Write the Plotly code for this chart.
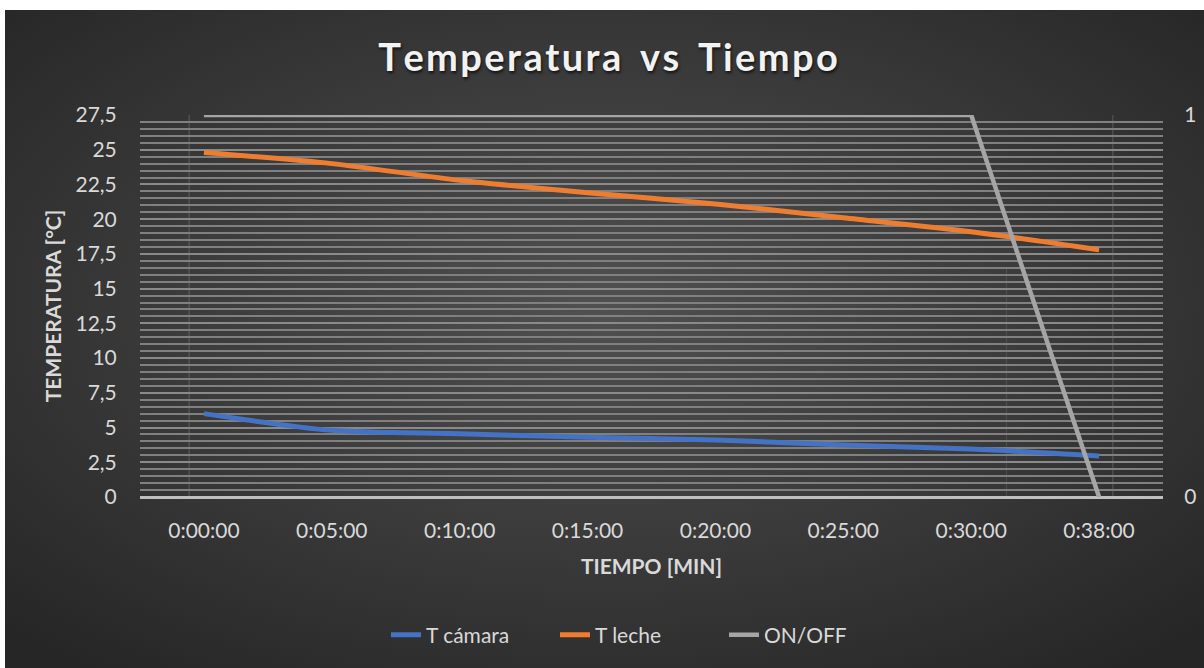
import base64
import plotly.graph_objects as go

# Data
tiempo = ["0:00:00", "0:05:00", "0:10:00", "0:15:00", "0:20:00", "0:25:00", "0:30:00", "0:38:00"]
t_camara = [6.0, 4.8, 4.55, 4.3, 4.1, 3.75, 3.45, 2.95]
t_leche = [24.8, 24.0, 22.8, 21.9, 21.1, 20.1, 19.1, 17.8]
on_off = [1, 1, 1, 1, 1, 1, 1, 0]

temp_ticks = [0, 2.5, 5, 7.5, 10, 12.5, 15, 17.5, 20, 22.5, 25, 27.5]
temp_labels = ["0", "2,5", "5", "7,5", "10", "12,5", "15", "17,5", "20", "22,5", "25", "27,5"]

title_words = ["Temperatura", "vs", "Tiempo"]

W, H = 1204, 668
ML, MR, MT, MB = 140, 41, 115, 171
PW, PH = W - ML - MR, H - MT - MB

# Dark radial-gradient panel behind the chart
svg = f"""<svg xmlns='http://www.w3.org/2000/svg' width='{W}' height='{H}' viewBox='0 0 {W} {H}' preserveAspectRatio='none'>
<defs><radialGradient id='g' cx='50%' cy='45%' r='70%'>
<stop offset='0%' stop-color='#505050'/><stop offset='100%' stop-color='#262626'/>
</radialGradient></defs><rect width='{W}' height='{H}' fill='url(#g)'/></svg>"""
bg_src = "data:image/svg+xml;base64," + base64.b64encode(svg.encode()).decode()

panel_x0, panel_y0 = 5, 10
bg_image = dict(
    source=bg_src, xref="paper", yref="paper",
    x=(panel_x0 - ML) / PW, y=(H - MB - panel_y0) / PH,
    sizex=(W - panel_x0) / PW, sizey=(H - panel_y0) / PH,
    xanchor="left", yanchor="top", sizing="stretch", layer="below",
)

# Faint vertical frame lines inside the plot area
frame_lines = [
    dict(type="line", xref="paper", yref="paper", x0=0.048, x1=0.048, y0=0, y1=1,
         line=dict(color="rgba(170,170,170,0.35)", width=1), layer="below"),
    dict(type="line", xref="paper", yref="paper", x0=0.951, x1=0.951, y0=0, y1=1,
         line=dict(color="rgba(170,170,170,0.35)", width=1), layer="below"),
    dict(type="line", xref="paper", yref="paper", x0=0.847, x1=0.847, y0=0, y1=0.6,
         line=dict(color="rgba(120,120,120,0.35)", width=1), layer="below"),
]

# Letter-spaced title text
hair = "\u200a"
title_text = (hair * 2 + " " + hair * 2).join(hair.join(w) for w in title_words)

fig = go.Figure()
fig.add_trace(go.Scatter(
    x=tiempo, y=t_camara, name="T cámara", mode="lines",
    line=dict(color="#4472C4", width=5, shape="spline", smoothing=0.8),
))
fig.add_trace(go.Scatter(
    x=tiempo, y=t_leche, name="T leche", mode="lines",
    line=dict(color="#ED7D31", width=5, shape="spline", smoothing=0.8),
))
fig.add_trace(go.Scatter(
    x=tiempo, y=on_off, name="ON/OFF", mode="lines", yaxis="y2",
    line=dict(color="#A5A5A5", width=4.5),
))

tick_font = dict(family="Lato, sans-serif", size=21, color="#D9D9D9")
axis_title_font = dict(family="Lato, sans-serif", size=21, color="#D9D9D9")

fig.update_layout(
    width=W, height=H,
    margin=dict(l=ML, r=MR, t=MT, b=MB, autoexpand=False),
    paper_bgcolor="white",
    plot_bgcolor="rgba(0,0,0,0)",
    images=[bg_image],
    shapes=frame_lines,
    title=dict(
        text=f"<b>{title_text}</b>",
        x=(374 + 842) / 2 / W, xref="container", xanchor="center",
        y=1 - 58 / H, yref="container", yanchor="middle",
        font=dict(family="Lato, sans-serif", size=38, color="#F2F2F2",
                  shadow="1px 2px 3px rgba(0,0,0,0.7)"),
    ),
    xaxis=dict(
        type="category", range=[-0.5, len(tiempo) - 0.5],
        showgrid=False, zeroline=False, showline=False, automargin=False,
        ticks="outside", ticklen=15, tickcolor="rgba(0,0,0,0)",
        tickfont=tick_font,
        title=dict(text="<b>TIEMPO [MIN]</b>", standoff=18, font=axis_title_font),
    ),
    yaxis=dict(
        range=[0, 27.5], tickvals=temp_ticks, ticktext=temp_labels,
        showgrid=True, gridcolor="#8A8A8A", gridwidth=1.5,
        minor=dict(dtick=0.5, showgrid=True, gridcolor="#808080", gridwidth=1.5),
        zeroline=True, zerolinecolor="#BFBFBF", zerolinewidth=3,
        showline=False, automargin=False,
        ticks="outside", ticklen=18, tickcolor="rgba(0,0,0,0)",
        tickfont=tick_font,
        title=dict(text="<b>TEMPERATURA [°C]</b>", standoff=8, font=axis_title_font),
    ),
    yaxis2=dict(
        overlaying="y", side="right", range=[0, 1], tickvals=[0, 1],
        showgrid=False, zeroline=False, showline=False, automargin=False,
        ticks="outside", ticklen=16, tickcolor="rgba(0,0,0,0)",
        tickfont=tick_font,
    ),
    legend=dict(
        orientation="h", x=0.5 - 12 / PW, xanchor="center",
        y=(H - MB - 635) / PH, yanchor="middle",
        font=dict(family="Lato, sans-serif", size=21, color="#D9D9D9"),
        bgcolor="rgba(0,0,0,0)", entrywidth=124,
    ),
    showlegend=True,
)

fig.write_html("out.html")
